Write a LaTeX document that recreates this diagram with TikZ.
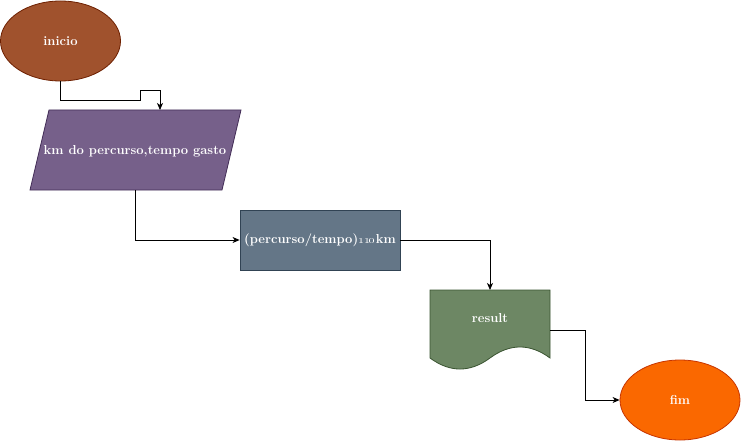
\documentclass[tikz,border=0pt]{standalone}
\usetikzlibrary{shapes.geometric,arrows.meta}
\definecolor{brownF}{HTML}{A0522D}\definecolor{brownD}{HTML}{6D1F00}
\definecolor{violF}{HTML}{76608A}\definecolor{violD}{HTML}{432D57}
\definecolor{slateF}{HTML}{647687}\definecolor{slateD}{HTML}{314354}
\definecolor{oliveF}{HTML}{6D8764}\definecolor{oliveD}{HTML}{3A5431}
\definecolor{orangeF}{HTML}{FA6800}\definecolor{orangeD}{HTML}{C73500}
\begin{document}
\begin{tikzpicture}[x=1pt,y=-1pt,
  lbl/.style={text=white,font=\fontsize{13}{15}\selectfont\bfseries},
  term/.style={ellipse,minimum width=120pt,minimum height=80pt,inner sep=0pt,line width=0.8pt,lbl},
  conn/.style={line width=0.8pt,-{Stealth[length=7pt,width=6pt,inset=2pt]}}]
\useasboundingbox (0,0) rectangle (741,441);
% inicio
\node[term,fill=brownF,draw=brownD] (ini) at (60.5,41) {inicio};
% parallelogram
\path[fill=violF,draw=violD,line width=0.8pt] (49,110) -- (241,110) -- (222,190) -- (30,190) -- cycle;
\node[lbl] (inp) at (135,151) {km do percurso,tempo gasto};
\coordinate (inpT) at (160,110);
\coordinate (inpB) at (135,190);
% process
\node[draw=slateD,fill=slateF,line width=0.8pt,minimum width=160pt,minimum height=60pt,inner sep=0pt,lbl] (proc) at (320,240) {(percurso/tempo)\oldstylenums{110}km};
% document
\path[fill=oliveF,draw=oliveD,line width=0.8pt] (430,290) -- (550,290) -- (550,358)
  .. controls (530,343.3) and (510,343.3) .. (490,358)
  .. controls (470,372.7) and (450,372.7) .. (430,358) -- cycle;
\node[lbl] (doc) at (490,318) {result};
\coordinate (docT) at (490,290);
\coordinate (docR) at (550,330);
% fim
\node[term,fill=orangeF,draw=orangeD] (fim) at (680,400) {fim};
% connectors
\draw[conn] (ini.south) |- (140,100) -- (140,90) -| (inpT);
\draw[conn] (inpB) |- (proc.west);
\draw[conn] (proc.east) -| (docT);
\draw[conn] (docR) -- (585,330) |- (fim.west);
\end{tikzpicture}
\end{document}
